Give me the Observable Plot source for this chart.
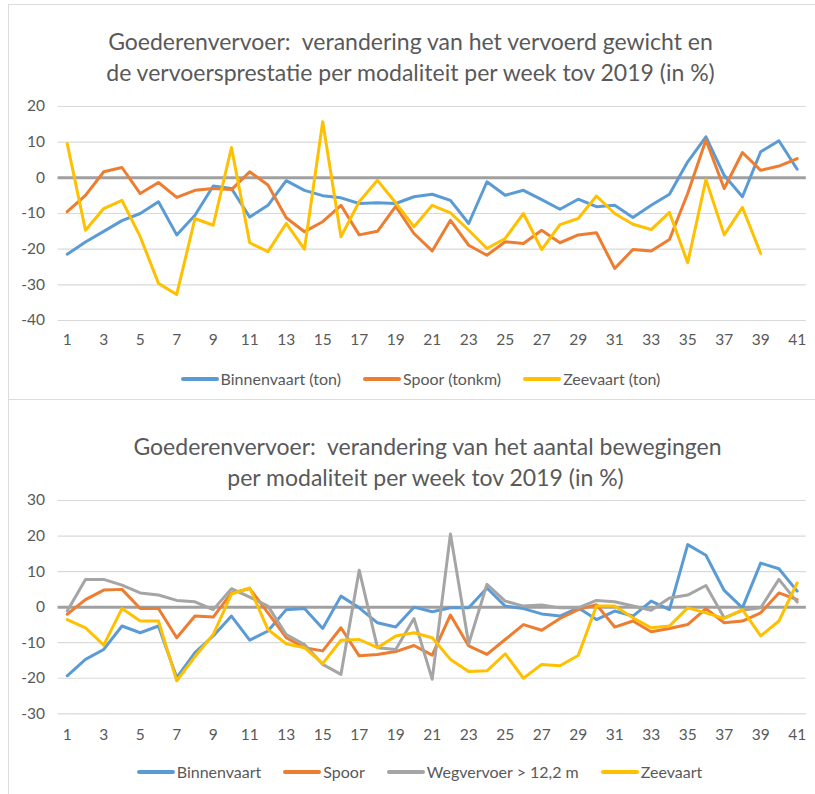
<!DOCTYPE html>
<html>
<head>
<meta charset="utf-8">
<script src="https://cdn.jsdelivr.net/npm/d3@7"></script>
<script src="https://cdn.jsdelivr.net/npm/@observablehq/plot@0.6"></script>
<style>
  html, body { margin: 0; padding: 0; background: #fff; }
  body { font-family: Lato, "Noto Sans", sans-serif; color: #595959; }
  #page { position: relative; width: 815px; height: 794px; overflow: hidden; }
  .panel { position: absolute; left: 8px; width: 830px; border-left: 1.5px solid #dcdcdc; border-top: 1.5px solid #dcdcdc; box-sizing: border-box; }
  .title { position: absolute; width: 815px; text-align: center; font-size: 23px; line-height: 28px; white-space: nowrap; color: #595959; }
  .chart { position: absolute; left: 0; }
  .legend { position: absolute; width: 815px; display: flex; justify-content: center; align-items: center; font-size: 16px; line-height: 20px; color: #595959; gap: 22px; }
  .item { display: flex; align-items: center; gap: 2px; }
  .sw { width: 38px; height: 3.5px; border-radius: 2px; }
</style>
</head>
<body>
<div id="page">
  <div class="panel" style="top:4px;height:396px;"></div>
  <div class="panel" style="top:399px;height:400px;"></div>
  <div class="title" style="left:3px;top:27px;">Goederenvervoer:&nbsp; verandering van het vervoerd gewicht en</div>
  <div class="title" style="left:3px;top:58px;">de vervoersprestatie per modaliteit per week tov 2019 (in %)</div>
  <div id="c1" class="chart" style="top:0px;"></div>
  <div id="l1" class="legend" style="left:13px;top:369px;"></div>
  <div class="title" style="left:20px;top:432px;">Goederenvervoer:&nbsp; verandering van het aantal bewegingen</div>
  <div class="title" style="left:18px;top:463px;">per modaliteit per week tov 2019 (in %)</div>
  <div id="c2" class="chart" style="top:400px;"></div>
  <div id="l2" class="legend" style="left:12px;top:762px;"></div>
</div>
<script>
const weeks = d3.range(1, 42);
const xTicks = d3.range(1, 42, 2);
const yTicks1 = [-40, -30, -20, -10, 0, 10, 20];
const yTicks2 = [-30, -20, -10, 0, 10, 20, 30];

// Chart 1: vervoerd gewicht / vervoersprestatie
const binnenvaartTon = [-21.4, -18, -15, -12, -10, -6.7, -16, -10.5, -2.3, -3, -11, -7.7, -0.8, -3.5, -5, -5.6, -7.2, -7, -7.2, -5.3,
  -4.6, -6.3, -12.8, -1.1, -4.9, -3.5, -6.1, -8.8, -6, -8.1, -7.7, -11.1, -7.7, -4.6, 4.5, 11.5, 0.7, -5.3, 7.3, 10.4, 2.4];
const spoorTonkm = [-9.5, -4.9, 1.7, 2.9, -4.4, -1.3, -5.5, -3.5, -3, -3.3, 1.7, -2, -11.2, -15.1, -12.3, -7.7, -16, -15, -8, -15.6,
  -20.5, -11.9, -18.9, -21.7, -17.9, -18.4, -14.7, -18.2, -16, -15.4, -25.4, -20.1, -20.5, -17.3, -4.4, 10.6, -3, 7.1, 2.1, 3.3, 5.4];
const zeevaartTon = [9.6, -14.7, -8.6, -6.3, -16.5, -29.6, -32.7, -11.4, -13.3, 8.5, -18.2, -20.7, -12.8, -20, 15.7, -16.5, -6.7, -0.7, -7, -13.7,
  -7.7, -9.8, -14.7, -19.8, -17, -10, -20.1, -13.1, -11.4, -5.1, -10, -13, -14.5, -9.7, -23.8, -0.5, -16, -8.3, -21.2];

// Chart 2: aantal bewegingen
const binnenvaartBew = [-19.3, -14.7, -11.9, -5.3, -7.2, -5.3, -19.8, -12.8, -8.1, -2.5, -9.3, -6.7, -0.7, -0.4, -6, 3.1, -0.2, -4.4, -5.6, 0,
  -1.3, -0.2, -0.2, 5.4, 0.3, -0.4, -1.9, -2.5, -0.2, -3.5, -1.1, -2.5, 1.7, -0.7, 17.6, 14.6, 4.7, -0.2, 12.4, 10.8, 4.5];
const spoorBew = [-2, 2.1, 4.8, 5, -0.4, -0.4, -8.6, -2.5, -2.8, 4, 5.2, -1.6, -8.6, -11.4, -12.3, -5.8, -13.7, -13.3, -12.5, -10.8,
  -13.5, -2.2, -10.9, -13.3, -9.1, -4.9, -6.5, -3.2, -0.7, 0.7, -5.6, -3.9, -6.9, -6, -4.9, -0.4, -4.4, -3.9, -1.6, 4, 2.1];
const wegvervoerBew = [-1.1, 7.8, 7.8, 6.2, 4, 3.4, 1.9, 1.5, -0.7, 5.2, 2.8, 0.3, -7.7, -10.5, -16.1, -18.9, 10.4, -11.4, -11.9, -3.2,
  -20.3, 20.6, -10.3, 6.4, 1.7, 0.3, 0.6, -0.2, -0.2, 1.9, 1.5, 0.3, -0.9, 2.6, 3.4, 6.1, -3, -0.9, -0.2, 7.8, 1.4];
const zeevaartBew = [-3.5, -5.8, -10.7, -0.4, -3.9, -3.9, -20.7, -13.9, -7.7, 3.7, 5.4, -6.3, -10.3, -11.4, -15.9, -9.3, -9.1, -11.4, -8.1, -7.2,
  -8.6, -14.7, -18.1, -17.9, -13.1, -20, -16.1, -16.5, -13.6, 0.3, 0.3, -3, -5.8, -5.3, -0.2, -1.6, -3.2, -0.7, -8.1, -3.9, 6.8];

const series1 = [
  {name: "Binnenvaart (ton)", values: binnenvaartTon, color: "#5B9BD5"},
  {name: "Spoor (tonkm)", values: spoorTonkm, color: "#ED7D31"},
  {name: "Zeevaart (ton)", values: zeevaartTon, color: "#FFC000"}
];
const series2 = [
  {name: "Binnenvaart", values: binnenvaartBew, color: "#5B9BD5"},
  {name: "Spoor", values: spoorBew, color: "#ED7D31"},
  {name: "Wegvervoer > 12,2 m", values: wegvervoerBew, color: "#A5A5A5"},
  {name: "Zeevaart", values: zeevaartBew, color: "#FFC000"}
];

function toRows(series) {
  return series.flatMap(s => s.values.map((v, i) => ({week: weeks[i], value: v, name: s.name})));
}

function makeChart(series, yDomain, yTicks, opts) {
  const rows = toRows(series);
  return Plot.plot({
    width: 815,
    height: opts.height,
    marginLeft: 57.6,
    marginRight: 9.2,
    marginTop: opts.marginTop,
    marginBottom: opts.marginBottom,
    style: {fontFamily: "Lato, 'Noto Sans', sans-serif", fontSize: "15.5px", color: "#595959", background: "transparent", overflow: "visible"},
    x: {domain: [0.5, 41.5], ticks: xTicks, tickSize: 0, tickPadding: opts.xPad, label: null, tickFormat: d => d},
    y: {domain: yDomain, ticks: yTicks, tickSize: 0, tickPadding: 13, label: null, tickFormat: d => d},
    color: {domain: series.map(s => s.name), range: series.map(s => s.color)},
    marks: [
      Plot.gridY(yTicks, {stroke: "#d9d9d9", strokeOpacity: 1, strokeWidth: 1.2}),
      Plot.ruleY([0], {stroke: "#a0a0a0", strokeWidth: 3}),
      Plot.line(rows, {x: "week", y: "value", z: "name", stroke: "name", strokeWidth: 3, strokeLinejoin: "round", strokeLinecap: "round"})
    ]
  });
}

document.getElementById("c1").appendChild(
  makeChart(series1, [-40, 20], yTicks1, {height: 400, marginTop: 106, marginBottom: 80, xPad: 13})
);
document.getElementById("c2").appendChild(
  makeChart(series2, [-30, 30], yTicks2, {height: 394, marginTop: 100, marginBottom: 80.7, xPad: 15})
);

function legend(id, series) {
  const el = document.getElementById(id);
  for (const s of series) {
    const item = document.createElement("div");
    item.className = "item";
    const sw = document.createElement("div");
    sw.className = "sw";
    sw.style.background = s.color;
    const t = document.createElement("span");
    t.textContent = s.name;
    item.appendChild(sw);
    item.appendChild(t);
    el.appendChild(item);
  }
}
legend("l1", series1);
legend("l2", series2);
</script>
</body>
</html>
